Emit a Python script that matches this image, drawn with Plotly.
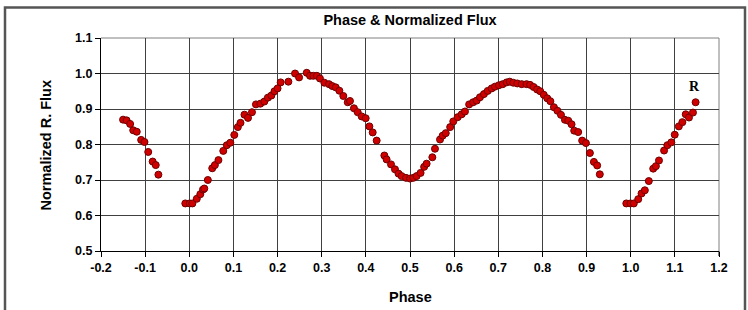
import plotly.graph_objects as go

# Phase values
phase = [
    -0.150, -0.142, -0.134, -0.127, -0.119, -0.109, -0.1015, -0.093, -0.083, -0.076, -0.070,
    -0.009, 0.001, 0.007, 0.017, 0.025, 0.031, 0.034, 0.042, 0.052, 0.058, 0.066, 0.077,
    0.085, 0.093, 0.102, 0.110, 0.116, 0.125, 0.133, 0.142, 0.151, 0.161, 0.170,
    0.178, 0.186, 0.193, 0.200,
    0.207, 0.2245, 0.2396, 0.2487, 0.266, 0.2736, 0.281, 0.289, 0.296, 0.306, 0.3166, 0.324,
    0.3317, 0.340, 0.349, 0.359, 0.364, 0.373, 0.3815, 0.3906, 0.3996, 0.408, 0.4155, 0.4245,
    0.4419, 0.447, 0.457, 0.466, 0.474, 0.481, 0.491, 0.500, 0.5075, 0.515, 0.524, 0.532,
    0.5377, 0.5506, 0.5566, 0.568, 0.574, 0.581, 0.591, 0.598, 0.608, 0.617, 0.6245, 0.634,
    0.643, 0.651, 0.6585, 0.6675, 0.676, 0.685, 0.6925, 0.7015, 0.710, 0.719, 0.726, 0.734,
    0.743, 0.753, 0.764,
    0.772, 0.780, 0.788, 0.795, 0.803, 0.811, 0.818, 0.826, 0.834,
    0.842, 0.851, 0.8585, 0.866, 0.872, 0.881, 0.890, 0.8985, 0.9075, 0.9166, 0.924, 0.930,
    0.990, 0.9995, 1.007, 1.017, 1.0245, 1.032, 1.041, 1.051, 1.057, 1.064, 1.0756, 1.083,
    1.092, 1.0997, 1.109, 1.117, 1.1246, 1.132, 1.141, 1.147,
]

# Normalized R flux values
flux = [
    0.870, 0.868, 0.858, 0.840, 0.836, 0.813, 0.807, 0.779, 0.752, 0.742, 0.715,
    0.634, 0.634, 0.634, 0.647, 0.660, 0.673, 0.676, 0.700, 0.733, 0.742, 0.756, 0.782,
    0.798, 0.805, 0.827, 0.849, 0.861, 0.884, 0.875, 0.891, 0.913, 0.915, 0.921,
    0.932, 0.938, 0.950, 0.958,
    0.975, 0.977, 1.000, 0.989, 1.002, 0.9935, 0.9935, 0.9935, 0.986, 0.974, 0.970, 0.9646,
    0.961, 0.9515, 0.9366, 0.919, 0.9226, 0.902, 0.891, 0.879, 0.874, 0.851, 0.834, 0.811,
    0.769, 0.758, 0.744, 0.730, 0.718, 0.711, 0.706, 0.704, 0.706, 0.711, 0.720, 0.737,
    0.746, 0.764, 0.788, 0.814, 0.825, 0.832, 0.849, 0.865, 0.877, 0.885, 0.893, 0.913,
    0.919, 0.9236, 0.933, 0.942, 0.951, 0.958, 0.963, 0.967, 0.970, 0.975, 0.977, 0.974,
    0.972, 0.970, 0.970,
    0.968, 0.962, 0.955, 0.950, 0.940, 0.930, 0.922, 0.905, 0.895,
    0.8835, 0.8695, 0.867, 0.857, 0.839, 0.835, 0.811, 0.804, 0.776, 0.751, 0.741, 0.716,
    0.634, 0.634, 0.634, 0.646, 0.662, 0.671, 0.697, 0.732, 0.739, 0.755, 0.783, 0.798,
    0.806, 0.8276, 0.851, 0.863, 0.885, 0.876, 0.890, 0.919,
]

x_ticks = [-0.2, -0.1, 0.0, 0.1, 0.2, 0.3, 0.4, 0.5, 0.6, 0.7, 0.8, 0.9, 1.0, 1.1, 1.2]
y_ticks = [0.5, 0.6, 0.7, 0.8, 0.9, 1.0, 1.1]

W, H = 748, 310
L, R, T, B = 101, 29, 38, 59
pw, ph = W - L - R, H - T - B

fig = go.Figure()
fig.add_trace(go.Scatter(
    x=phase, y=flux, mode="markers",
    marker=dict(size=7, color="#D00000", line=dict(color="#6E0000", width=1)),
    showlegend=False,
))

font_fam = "Liberation Sans, Arial, sans-serif"
grid_col = "#404040"

fig.update_layout(
    width=W, height=H,
    margin=dict(l=L, r=R, t=T, b=B, pad=0, autoexpand=False),
    paper_bgcolor="white", plot_bgcolor="white",
    font=dict(family=font_fam, color="black"),
    title=dict(text="<b>Phase & Normalized Flux</b>", x=(L + pw / 2) / W, xanchor="center",
               y=1 - 20 / H, yanchor="middle", yref="container",
               font=dict(size=14.5, family=font_fam, color="black")),
    xaxis=dict(
        range=[-0.2, 1.2], tickvals=x_ticks, automargin=False,
        ticktext=[f"{v:.1f}" for v in x_ticks],
        showgrid=True, gridcolor=grid_col, gridwidth=1,
        showline=True, linecolor="black", linewidth=1,
        ticks="outside", ticklen=5, tickcolor="black",
        tickfont=dict(size=12.5, family=font_fam, color="black", weight="bold"),
        zeroline=False,
    ),
    yaxis=dict(
        range=[0.5, 1.1], tickvals=y_ticks, automargin=False,
        ticktext=[f"{v:.1f}" for v in y_ticks],
        showgrid=True, gridcolor=grid_col, gridwidth=1,
        showline=True, linecolor="black", linewidth=1,
        ticks="outside", ticklen=5, tickcolor="black",
        tickfont=dict(size=12.5, family=font_fam, color="black", weight="bold"),
        zeroline=False,
    ),
)

# Axis titles
fig.add_annotation(xref="paper", yref="paper", x=0.5, y=-(297 - (T + ph)) / ph,
                   text="<b>Phase</b>", showarrow=False, xanchor="center", yanchor="middle",
                   font=dict(size=14.5, family=font_fam, color="black"))
fig.add_annotation(xref="paper", yref="paper", x=(45 - L) / pw, y=0.5,
                   text="<b>Normalized R. Flux</b>", showarrow=False, textangle=-90,
                   xanchor="center", yanchor="middle",
                   font=dict(size=14.5, family=font_fam, color="black"))

# Edge gridlines at 1.1 (top) and 1.2 (right)
fig.add_shape(type="line", xref="paper", yref="paper", x0=0, x1=1, y0=1, y1=1,
              line=dict(color="#808080", width=1), layer="below")
fig.add_shape(type="line", xref="paper", yref="paper", x0=1, x1=1, y0=0, y1=1,
              line=dict(color="#808080", width=1), layer="below")
# Tick below the right edge
fig.add_shape(type="line", xref="paper", yref="paper", x0=1, x1=1, y0=0, y1=-5 / ph,
              line=dict(color="black", width=1))

# R label near the last points
fig.add_annotation(x=1.1456, y=0.963, text="<b>R</b>", showarrow=False,
                   font=dict(family="Liberation Serif, Times New Roman, serif", size=14, color="black"))

# Outer chart frame
fig.add_shape(type="rect", xref="paper", yref="paper",
              x0=(5 - L) / pw, x1=(745 - L) / pw,
              y0=-(H + 5 - (T + ph)) / ph, y1=1 + (T - 7.5) / ph,
              line=dict(color="#555555", width=2.5), fillcolor="rgba(0,0,0,0)", layer="below")

fig.write_html("out.html", config={"displayModeBar": False},
               post_script="document.body.style.margin='0';document.body.style.overflow='hidden';")
